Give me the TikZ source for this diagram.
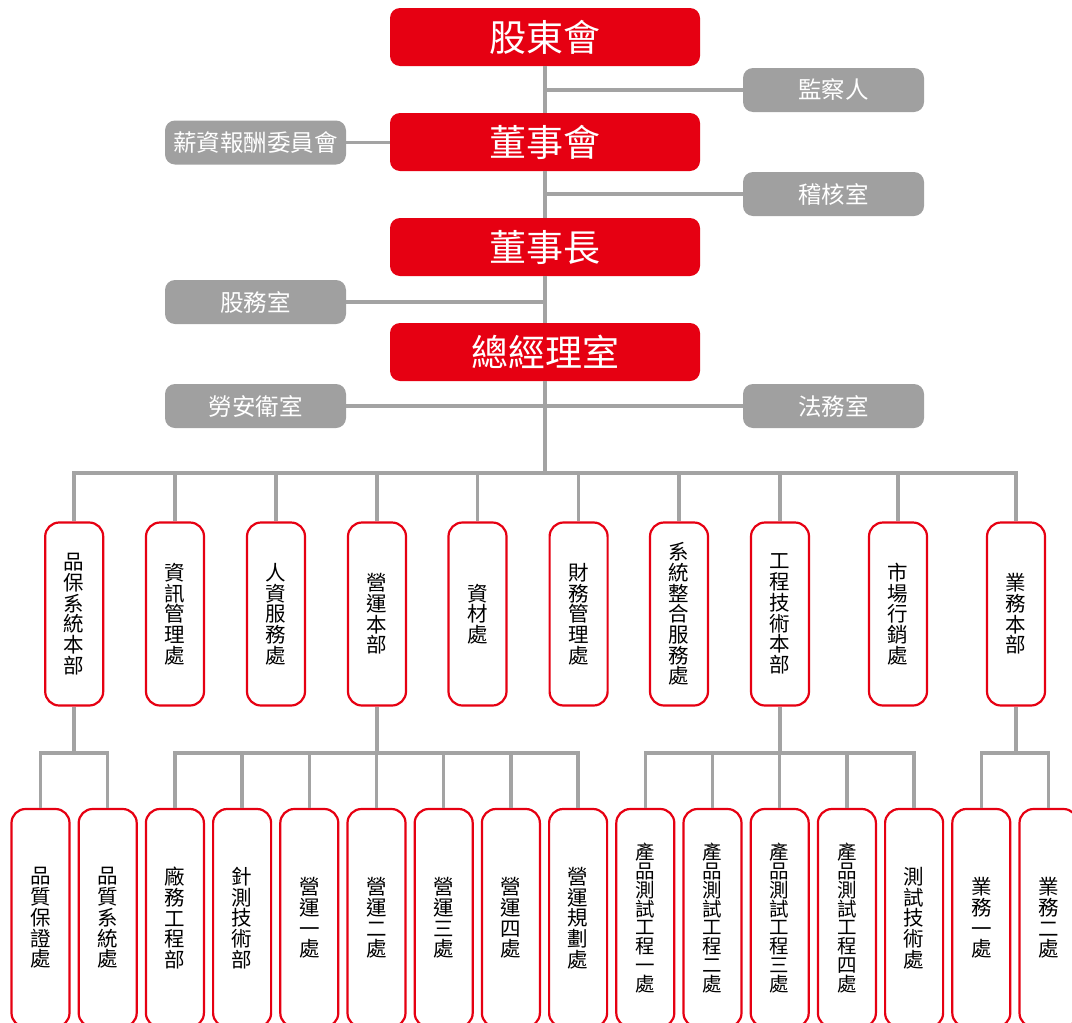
\documentclass[tikz,border=0pt]{standalone}
\usepackage{fontspec}
\setmainfont{Noto Sans CJK TC}
\definecolor{cred}{HTML}{E60012}
\definecolor{cgray}{HTML}{A0A0A0}
\definecolor{cline}{HTML}{A3A3A3}
\begin{document}
\begin{tikzpicture}[x=1pt,y=-1pt,
  redbox/.style={fill=cred,rounded corners=10pt,minimum width=310pt,minimum height=58pt,inner sep=0pt,text=white,font=\fontsize{37}{40}\selectfont},
  graybox/.style={fill=cgray,rounded corners=10pt,minimum width=181pt,minimum height=44pt,inner sep=0pt,text=white,font=\fontsize{23.5}{26}\selectfont},
  vbox/.style={draw=cred,line width=2.2pt,fill=white,rounded corners=14pt,minimum width=58pt,inner sep=0pt,align=center,font=\fontsize{20.5}{20.7}\selectfont},
  midbox/.style={vbox,minimum height=183pt},
  lowbox/.style={vbox,minimum height=218pt},
  tight/.style={font=\fontsize{19.5}{18.8}\selectfont},
  conn/.style={draw=cline,line width=3.5pt}]
\clip (0,0) rectangle (1072,1023);
\fill[white] (0,0) rectangle (1072,1023);
% top chain
\node[redbox] (gdh) at (545,37) {股東會};
\node[redbox] (dsh) at (545,142) {董事會};
\node[redbox] (dsz) at (545,247) {董事長};
\node[redbox] (zjl) at (545,352) {總經理室};
\node[graybox] (jcr) at (833.5,90) {監察人};
\node[graybox] (jhs) at (833.5,194) {稽核室};
\node[graybox] (xzb) at (255.5,142.5) {薪資報酬委員會};
\node[graybox] (gws) at (255.5,302) {股務室};
\node[graybox] (law) at (255.5,406) {勞安衛室};
\node[graybox] (fws) at (833.5,406) {法務室};
\coordinate (bus) at (545,473);
% mid row
\node[midbox] (m1) at (74.2,614) {品\\保\\系\\統\\本\\部};
\node[midbox] (m2) at (175,614) {資\\訊\\管\\理\\處};
\node[midbox] (m3) at (276,614) {人\\資\\服\\務\\處};
\node[midbox] (m4) at (377,614) {營\\運\\本\\部};
\node[midbox] (m5) at (477.5,614) {資\\材\\處};
\node[midbox] (m6) at (578.6,614) {財\\務\\管\\理\\處};
\node[midbox] (m7) at (679,614) {系\\統\\整\\合\\服\\務\\處};
\node[midbox] (m8) at (780,614) {工\\程\\技\\術\\本\\部};
\node[midbox] (m9) at (898,614) {市\\場\\行\\銷\\處};
\node[midbox] (m10) at (1016,614) {業\\務\\本\\部};
% bottom row
\node[lowbox] (s1) at (40.5,918) {品\\質\\保\\證\\處};
\node[lowbox] (s2) at (107.7,918) {品\\質\\系\\統\\處};
\node[lowbox] (s3) at (174.9,918) {廠\\務\\工\\程\\部};
\node[lowbox] (s4) at (242.1,918) {針\\測\\技\\術\\部};
\node[lowbox] (s5) at (309.3,918) {營\\運\\一\\處};
\node[lowbox] (s6) at (376.5,918) {營\\運\\二\\處};
\node[lowbox] (s7) at (443.7,918) {營\\運\\三\\處};
\node[lowbox] (s8) at (510.9,918) {營\\運\\四\\處};
\node[lowbox] (s9) at (578.1,918) {營\\運\\規\\劃\\處};
\node[lowbox,tight] (s10) at (645.3,918) {產\\品\\測\\試\\工\\程\\一\\處};
\node[lowbox,tight] (s11) at (712.5,918) {產\\品\\測\\試\\工\\程\\二\\處};
\node[lowbox,tight] (s12) at (779.7,918) {產\\品\\測\\試\\工\\程\\三\\處};
\node[lowbox,tight] (s13) at (846.9,918) {產\\品\\測\\試\\工\\程\\四\\處};
\node[lowbox] (s14) at (914.1,918) {測\\試\\技\\術\\處};
\node[lowbox] (s15) at (981.3,918) {業\\務\\一\\處};
\node[lowbox] (s16) at (1048.5,918) {業\\務\\二\\處};
% connectors
\draw[conn] (gdh.south) -- (dsh.north);
\draw[conn] (dsh.south) -- (dsz.north);
\draw[conn] (dsz.south) -- (zjl.north);
\draw[conn] (zjl.south) -- (bus);
\draw[conn] (jcr.west) -- (jcr.west -| gdh.south);
\draw[conn] (jhs.west) -- (jhs.west -| gdh.south);
\draw[conn] (xzb.east) -- (xzb.east -| dsh.west);
\draw[conn] (gws.east) -- (gws.east -| dsz.south);
\draw[conn] (law.east) -- (fws.west);
\foreach \m in {m1,m2,m3,m4,m5,m6,m7,m8,m9,m10} \draw[conn] (\m.north) |- (bus);
\coordinate (b1) at (74.2,753);
\coordinate (b4) at (377,753);
\coordinate (b8) at (780,753);
\coordinate (b10) at (1016,753);
\draw[conn] (m1.south) -- (b1);
\draw[conn] (m4.south) -- (b4);
\draw[conn] (m8.south) -- (b8);
\draw[conn] (m10.south) -- (b10);
\foreach \s in {s1,s2} \draw[conn] (\s.north) |- (b1);
\foreach \s in {s3,s4,s5,s6,s7,s8,s9} \draw[conn] (\s.north) |- (b4);
\foreach \s in {s10,s11,s12,s13,s14} \draw[conn] (\s.north) |- (b8);
\foreach \s in {s15,s16} \draw[conn] (\s.north) |- (b10);
\end{tikzpicture}
\end{document}
